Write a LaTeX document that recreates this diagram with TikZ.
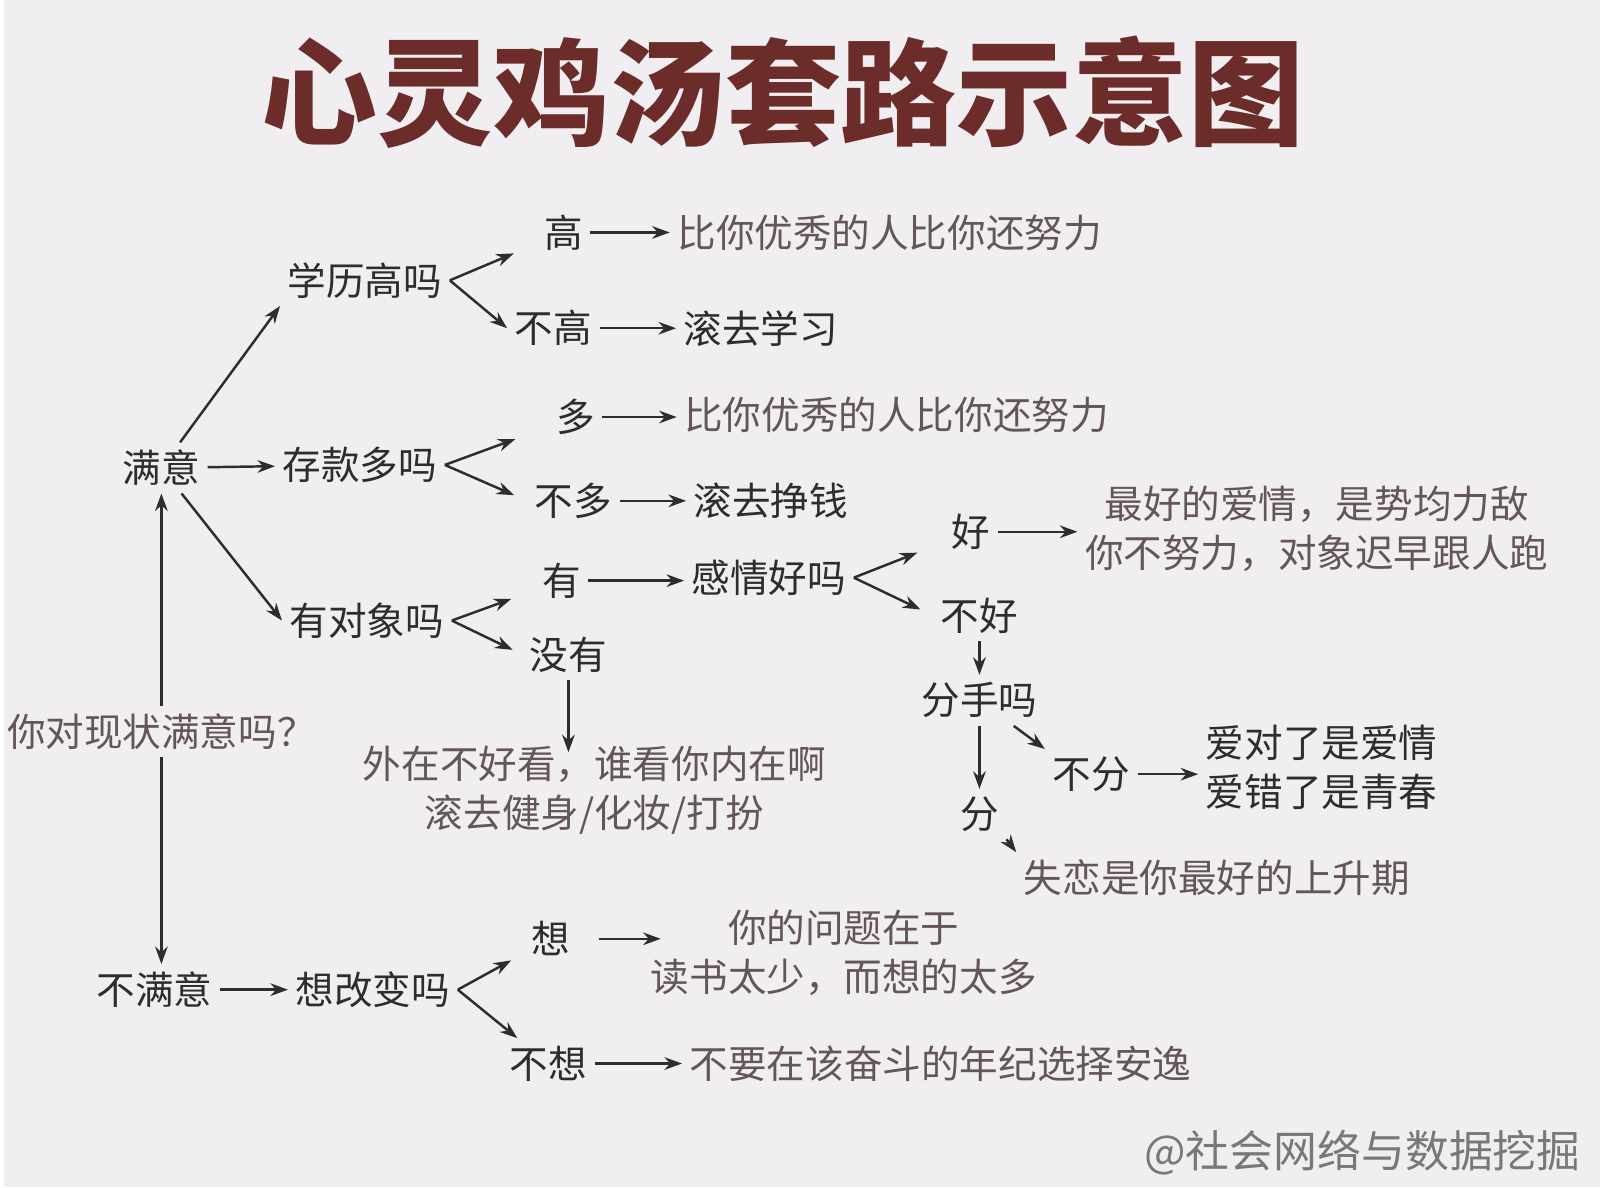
\documentclass[tikz,border=0pt]{standalone}
\usepackage{fontspec}
\setmainfont{Noto Sans CJK SC}
\usepackage{tikz}
\usetikzlibrary{arrows.meta,calc}

\definecolor{bgcol}{RGB}{240,238,240}
\definecolor{ink}{RGB}{45,45,45}
\definecolor{soft}{RGB}{100,84,92}
\definecolor{titlecol}{RGB}{108,44,42}
\definecolor{markcol}{RGB}{120,120,120}

\begin{document}
\begin{tikzpicture}[x=0.01cm, y=-0.01cm,
    q/.style={font=\fontsize{11pt}{14pt}\selectfont, text=ink, inner sep=2pt},
    ans/.style={q, text=soft, align=center},
    arrow/.style={-{Stealth[length=5pt,width=3.6pt]}, line width=0.7pt, draw=ink}
]

\fill[bgcol] (0,0) rectangle (1600,1190);

\node[font=\fontsize{33pt}{36pt}\selectfont\bfseries, text=titlecol] (title) at (781,92) {心灵鸡汤套路示意图};

% Root question and the two answers
\node[ans] (q0) at (158,733) {你对现状满意吗？};
\node[q] (my) at (158,469) {满意};
\node[q] (bmy) at (151,992) {不满意};

% Satisfied branch
\node[q] (xl) at (362,281) {学历高吗};
\node[q] (ck) at (357,466) {存款多吗};
\node[q] (ydx) at (364,622) {有对象吗};

\node[q] (gao) at (561,233) {高};
\node[q] (bugao) at (551,329) {不高};
\node[q] (duo) at (573,418) {多};
\node[q] (buduo) at (571,502) {不多};
\node[q] (you) at (559,582) {有};
\node[q] (meiyou) at (566,656) {没有};

\node[ans] (gaoans) at (888,233) {比你优秀的人比你还努力};
\node[q] (xuexi) at (759,329) {滚去学习};
\node[ans] (duoans) at (895,416) {比你优秀的人比你还努力};
\node[q] (zhengqian) at (769,502) {滚去挣钱};
\node[q] (gq) at (767,579) {感情好吗};
\node[ans] (waizai) at (592,792) {外在不好看，谁看你内在啊\\滚去健身/化妆/打扮};

% Relationship sub-branch
\node[q] (hao) at (969,533) {好};
\node[ans] (love) at (1316,530) {最好的爱情，是势均力敌\\你不努力，对象迟早跟人跑};
\node[q] (buhao) at (978,617) {不好};
\node[q] (fsm) at (978,702) {分手吗};
\node[q] (bufen) at (1090,776) {不分};
\node[q, align=left] (aidui) at (1321,769) {爱对了是爱情\\爱错了是青春};
\node[q] (fen) at (978,816) {分};
\node[ans] (shilian) at (1216,880) {失恋是你最好的上升期};

% Not satisfied branch
\node[q] (xgb) at (370,992) {想改变吗};
\node[q] (xiang) at (548,941) {想};
\node[q] (buxiang) at (546,1066) {不想};
\node[ans] (wenti) at (842,955) {你的问题在于\\读书太少，而想的太多};
\node[ans] (buyao) at (939,1066) {不要在该奋斗的年纪选择安逸};

\node[font=\fontsize{12.5pt}{14pt}\selectfont, text=markcol] (mark) at (1362,1155) {@社会网络与数据挖掘};

% Root arrows
\draw[arrow] (q0) -- (my);
\draw[arrow] (q0) -- (q0 |- bmy.north);

\draw[arrow] (my) -- (xl.south west);
\draw[arrow] (my) -- (ck);
\draw[arrow] (my) -- (ydx.west);
\draw[arrow] (bmy) -- (xgb);

% Splits
\draw[arrow, shorten >=7pt] (xl.east) -- (gao);
\draw[arrow] (xl.east) -- (bugao.west);
\draw[arrow, shorten >=10pt] (ck.east) -- (duo);
\draw[arrow, shorten >=4pt] (ck.east) -- (buduo.west);
\draw[arrow, shorten >=7pt] (ydx.east) -- (you);
\draw[arrow, shorten >=3pt] (ydx.east) -- (meiyou.west);
\draw[arrow, shorten >=8pt] (gq.east) -- (hao);
\draw[arrow, shorten >=4pt] (gq.east) -- (buhao.west);
\draw[arrow, shorten >=4pt] (xgb.east) -- (xiang);
\draw[arrow] (xgb.east) -- (buxiang);

% Answers
\draw[arrow] (gao) -- (gao -| gaoans.west);
\draw[arrow] (bugao) -- (bugao -| xuexi.west);
\draw[arrow] (duo) -- (duo -| duoans.west);
\draw[arrow] (buduo) -- (buduo -| zhengqian.west);
\draw[arrow] (you) -- (you -| gq.west);
\draw[arrow, shorten >=-4pt] (meiyou) -- (meiyou |- waizai.north);
\draw[arrow] (hao) -- (hao -| love.west);
\draw[arrow] (buhao) -- (fsm);
\draw[arrow] (fsm) -- (fen);
\draw[arrow] (fsm) -- (bufen.north west);
\draw[arrow] (bufen) -- (bufen -| aidui.west);
\draw[arrow] (fen.south east) -- (shilian.north west);
\draw[arrow, shorten <=6pt, shorten >=-5pt] (xiang) -- (xiang -| wenti.west);
\draw[arrow] (buxiang) -- (buxiang -| buyao.west);

\end{tikzpicture}
\end{document}
